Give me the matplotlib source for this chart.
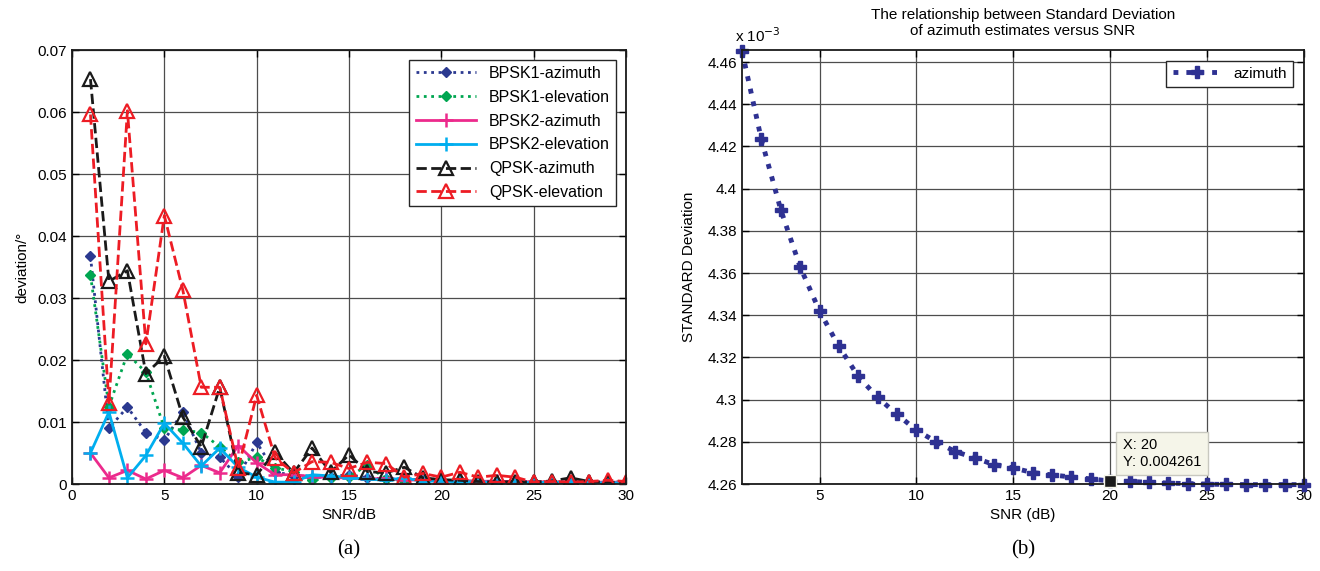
import numpy as np
import matplotlib
matplotlib.use('Agg')
from matplotlib import pyplot as plt

plt.rcParams['font.family'] = ['Liberation Sans', 'DejaVu Sans']

snr = np.arange(1, 31)

# (a) deviation of the estimates, degrees
bpsk1_az = [0.0367, 0.0090, 0.0124, 0.0083, 0.0071, 0.0116, 0.0050, 0.0043, 0.0012, 0.0067,
            0.0020, 0.0013, 0.0010, 0.0012, 0.0015, 0.0010, 0.0008, 0.0009, 0.0006, 0.0005,
            0.0006, 0.0004, 0.0003, 0.0004, 0.0003, 0.0003, 0.0002, 0.0003, 0.0002, 0.0002]
bpsk1_el = [0.0337, 0.0125, 0.0210, 0.0180, 0.0090, 0.0087, 0.0083, 0.0060, 0.0035, 0.0043,
            0.0026, 0.0020, 0.0006, 0.0010, 0.0012, 0.0030, 0.0008, 0.0005, 0.0010, 0.0006,
            0.0004, 0.0005, 0.0003, 0.0004, 0.0003, 0.0004, 0.0002, 0.0003, 0.0003, 0.0004]
bpsk2_az = [0.0050, 0.0010, 0.0022, 0.0008, 0.0022, 0.0010, 0.0030, 0.0018, 0.0062, 0.0034,
            0.0015, 0.0015, 0.0012, 0.0010, 0.0010, 0.0008, 0.0009, 0.0006, 0.0007, 0.0005,
            0.0006, 0.0004, 0.0005, 0.0003, 0.0004, 0.0003, 0.0004, 0.0003, 0.0003, 0.0003]
bpsk2_el = [0.0050, 0.0116, 0.0010, 0.0046, 0.0098, 0.0066, 0.0029, 0.0058, 0.0027, 0.0011,
            0.0003, 0.0003, 0.0015, 0.0013, 0.0010, 0.0008, 0.0006, 0.0010, 0.0004, 0.0005,
            0.0003, 0.0004, 0.0002, 0.0003, 0.0002, 0.0003, 0.0002, 0.0002, 0.0002, 0.0002]
qpsk_az = [0.0653, 0.0327, 0.0344, 0.0178, 0.0206, 0.0108, 0.0060, 0.0156, 0.0018, 0.0015,
           0.0051, 0.0018, 0.0058, 0.0019, 0.0047, 0.0020, 0.0018, 0.0027, 0.0010, 0.0007,
           0.0006, 0.0004, 0.0003, 0.0004, 0.0003, 0.0005, 0.0010, 0.0004, 0.0003, 0.0002]
qpsk_el = [0.0596, 0.0131, 0.0602, 0.0226, 0.0433, 0.0313, 0.0156, 0.0156, 0.0026, 0.0143,
           0.0042, 0.0018, 0.0036, 0.0035, 0.0025, 0.0035, 0.0033, 0.0011, 0.0017, 0.0011,
           0.0019, 0.0011, 0.0014, 0.0011, 0.0003, 0.0004, 0.0003, 0.0004, 0.0006, 0.0004]

# (b) standard deviation of azimuth (x 1e-3)
std_az = np.array([4.4652, 4.4233, 4.3900, 4.3629, 4.3420, 4.3252, 4.3110, 4.3010, 4.2930, 4.2855,
                   4.2801, 4.2754, 4.2724, 4.2692, 4.2676, 4.2654, 4.2643, 4.2633, 4.2624, 4.2614,
                   4.2612, 4.2608, 4.2604, 4.2602, 4.2599, 4.2598, 4.2597, 4.2597, 4.2597, 4.2597]) * 1e-3
tip_x = 20

fig = plt.figure(figsize=(13.2, 5.71), dpi=100)
ax1 = fig.add_axes([72/1320, 1-484/571, (626-72)/1320, (484-50)/571])
ax2 = fig.add_axes([742/1320, 1-484/571, (1304-742)/1320, (484-50)/571])

def matlab_style(ax):
    ax.grid(True, color='0.3', lw=0.9)
    ax.set_axisbelow(True)
    ax.tick_params(direction='in', top=True, right=True, labelsize=11, length=5, width=1)
    for s in ax.spines.values():
        s.set_linewidth(1.3)
        s.set_color('0.1')

ax1.plot(snr, bpsk1_az, ':', color='#2B3990', lw=2, marker='D', ms=5, label='BPSK1-azimuth')
ax1.plot(snr, bpsk1_el, ':', color='#00A651', lw=2, marker='D', ms=5, label='BPSK1-elevation')
ax1.plot(snr, bpsk2_az, '-', color='#EC2A8C', lw=2, marker='+', ms=10, mew=1.8, label='BPSK2-azimuth')
ax1.plot(snr, bpsk2_el, '-', color='#00AEEF', lw=2, marker='+', ms=10, mew=1.8, label='BPSK2-elevation')
ax1.plot(snr, qpsk_az, '--', color='#1A1A1A', lw=2, marker='^', ms=10, mew=1.6, mfc='none', label='QPSK-azimuth')
ax1.plot(snr, qpsk_el, '--', color='#ED1C24', lw=2, marker='^', ms=10, mew=1.6, mfc='none', label='QPSK-elevation')
ax1.set_xlim(0, 30)
ax1.set_ylim(0, 0.07)
ax1.set_xticks(range(0, 31, 5))
ax1.set_yticks(np.arange(0, 0.071, 0.01))
ax1.set_yticklabels(['0', '0.01', '0.02', '0.03', '0.04', '0.05', '0.06', '0.07'])
ax1.set_xlabel('SNR/dB', fontsize=11, labelpad=4)
ax1.set_ylabel('deviation/°', fontsize=11, labelpad=6)
matlab_style(ax1)
leg = ax1.legend(loc='upper right', fontsize=11.5, fancybox=False, framealpha=1, edgecolor='0.15',
                 handlelength=3.8, borderaxespad=0.6, labelspacing=0.55)
leg.get_frame().set_linewidth(1)

ax2.plot(snr, std_az, ':', color='#2E3192', lw=3.5, marker='P', ms=9, clip_on=False, label='azimuth')
ax2.plot(snr[tip_x-1], std_az[tip_x-1], 's', color='#1A1A1A', ms=9, mec='#F5F5E9', zorder=5, clip_on=False)
ax2.annotate('X: %d\nY: %.6f' % (tip_x, std_az[tip_x-1]), xy=(snr[tip_x-1], std_az[tip_x-1]),
             xytext=(9, 9), textcoords='offset points', fontsize=10.5, va='bottom', ha='left',
             bbox=dict(boxstyle='square,pad=0.45', fc='#F5F5E9', ec='#C8C8C0', lw=1), zorder=6)
ax2.set_xlim(1, 30)
ax2.set_ylim(4.26e-3, 4.4657e-3)
ax2.set_xticks(range(5, 31, 5))
yt = np.arange(4.26, 4.461, 0.02) * 1e-3
ax2.set_yticks(yt)
ax2.set_yticklabels(['%g' % round(v * 1e3, 2) for v in yt])
ax2.text(-0.012, 1.012, r'x 10$^{-3}$', transform=ax2.transAxes, fontsize=11, ha='left', va='bottom')
ax2.set_xlabel('SNR (dB)', fontsize=11, labelpad=4)
ax2.set_ylabel('STANDARD Deviation', fontsize=11, labelpad=8)
ax2.set_title('The relationship between Standard Deviation\nof azimuth estimates versus SNR',
              fontsize=11, pad=11, linespacing=1.15)
matlab_style(ax2)
leg2 = ax2.legend(loc='upper right', fontsize=11, fancybox=False, framealpha=1, edgecolor='0.15',
                  handlelength=3.2, borderaxespad=0.7)
leg2.get_frame().set_linewidth(1)

fig.text(349/1320, 1-550/571, '(a)', fontsize=15, family='Liberation Serif', ha='center', va='center')
fig.text(1023/1320, 1-550/571, '(b)', fontsize=15, family='Liberation Serif', ha='center', va='center')

fig.savefig('out.png', dpi=100)
